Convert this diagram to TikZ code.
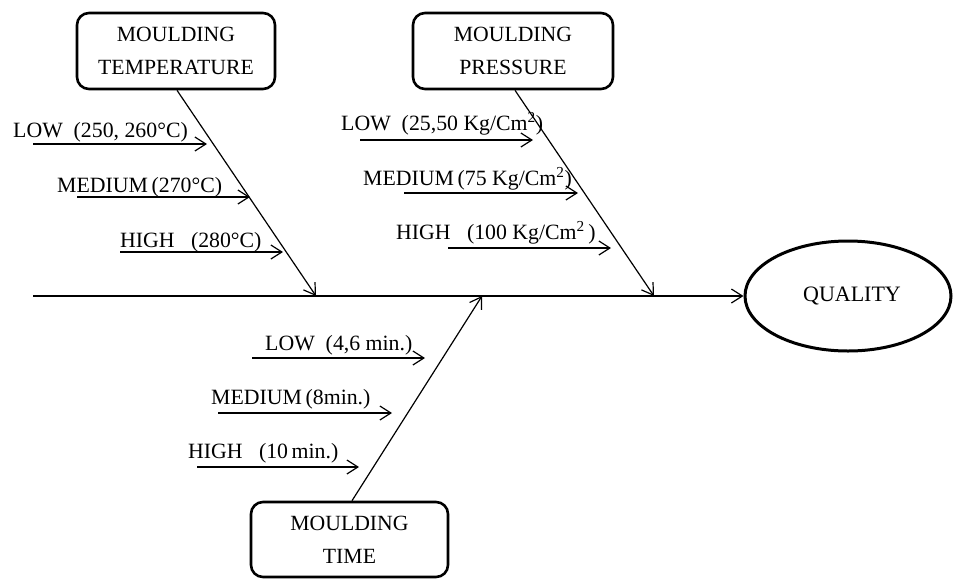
\documentclass[tikz,border=0pt]{standalone}
\usepackage{fontspec}
\setmainfont{Liberation Serif}
\usetikzlibrary{arrows.meta,shapes.geometric}
\begin{document}
\begin{tikzpicture}[x=1pt,y=-1pt,
  causebox/.style={draw,line width=2.6pt,rounded corners=12pt,align=center,
    font=\fontsize{21.7}{33}\selectfont,inner sep=0pt},
  bone/.style={line width=1.2pt,-{Straight Barb[length=11pt,width=14pt,line width=1.2pt]}},
  lbl/.style={anchor=base west,inner sep=0pt,font=\fontsize{21.8}{25}\selectfont}]
\useasboundingbox (0,0) rectangle (953,579);
% cause boxes and effect
\node[causebox,minimum width=198pt,minimum height=76pt] (temp) at (176,51) {MOULDING\\TEMPERATURE};
\node[causebox,minimum width=200pt,minimum height=76pt] (press) at (513,51) {MOULDING\\PRESSURE};
\node[causebox,minimum width=197pt,minimum height=75pt] (time) at (349.5,539.5) {MOULDING\\TIME};
\node[draw,ellipse,line width=3pt,minimum width=206pt,minimum height=110pt,inner sep=0pt,
  font=\fontsize{22}{25}\selectfont] (quality) at (848,296) {\hspace{8pt}QUALITY};
% spine
\coordinate (tail) at (33,296);
\draw[bone] (tail) -- (quality.west);
% main bones
\coordinate (jt) at (316,296);
\coordinate (jp) at (654,296);
\coordinate (jm) at (482,296);
\draw[bone] ([xshift=1pt]temp.south) -- (jt);
\draw[bone] ([xshift=2pt]press.south) -- (jp);
\draw[bone] ([xshift=2.5pt]time.north) -- (jm);
% temperature sub-causes
\coordinate (t1s) at (33,144);  \coordinate (t1e) at (207,144);
\coordinate (t2s) at (77,197);  \coordinate (t2e) at (250,197);
\coordinate (t3s) at (120,252); \coordinate (t3e) at (283,252);
\draw[bone] (t1s) -- (t1e);
\draw[bone] (t2s) -- (t2e);
\draw[bone] (t3s) -- (t3e);
\node[lbl] (t1l) at (13,137) {LOW\ \ (250, 260°C)};
\node[lbl] (t2l) at (57,192) {MEDIUM\,(270°C)};
\node[lbl] (t3l) at (120,247) {HIGH\ \ \ (280°C)};
% pressure sub-causes
\coordinate (p1s) at (360,140); \coordinate (p1e) at (533,140);
\coordinate (p2s) at (404,193); \coordinate (p2e) at (578,193);
\coordinate (p3s) at (448,248); \coordinate (p3e) at (611,248);
\draw[bone] (p1s) -- (p1e);
\draw[bone] (p2s) -- (p2e);
\draw[bone] (p3s) -- (p3e);
\node[lbl] (p1l) at (341,130) {LOW\ \ (25,50 Kg/Cm\textsuperscript{2})};
\node[lbl] (p2l) at (363,185) {MEDIUM\,(75 Kg/Cm\textsuperscript{2})};
\node[lbl] (p3l) at (396,239) {HIGH\ \ \ (100 Kg/Cm\textsuperscript{2}\,)};
% time sub-causes
\coordinate (m1s) at (252,358); \coordinate (m1e) at (425,358);
\coordinate (m2s) at (218,413); \coordinate (m2e) at (392,413);
\coordinate (m3s) at (197,467); \coordinate (m3e) at (359,467);
\draw[bone] (m1s) -- (m1e);
\draw[bone] (m2s) -- (m2e);
\draw[bone] (m3s) -- (m3e);
\node[lbl] (m1l) at (265,350) {LOW\ \ (4,6 min.)};
\node[lbl] (m2l) at (211,404) {MEDIUM\,(8min.)};
\node[lbl] (m3l) at (188,458) {HIGH\ \ \ (10\,min.)};
\end{tikzpicture}
\end{document}
